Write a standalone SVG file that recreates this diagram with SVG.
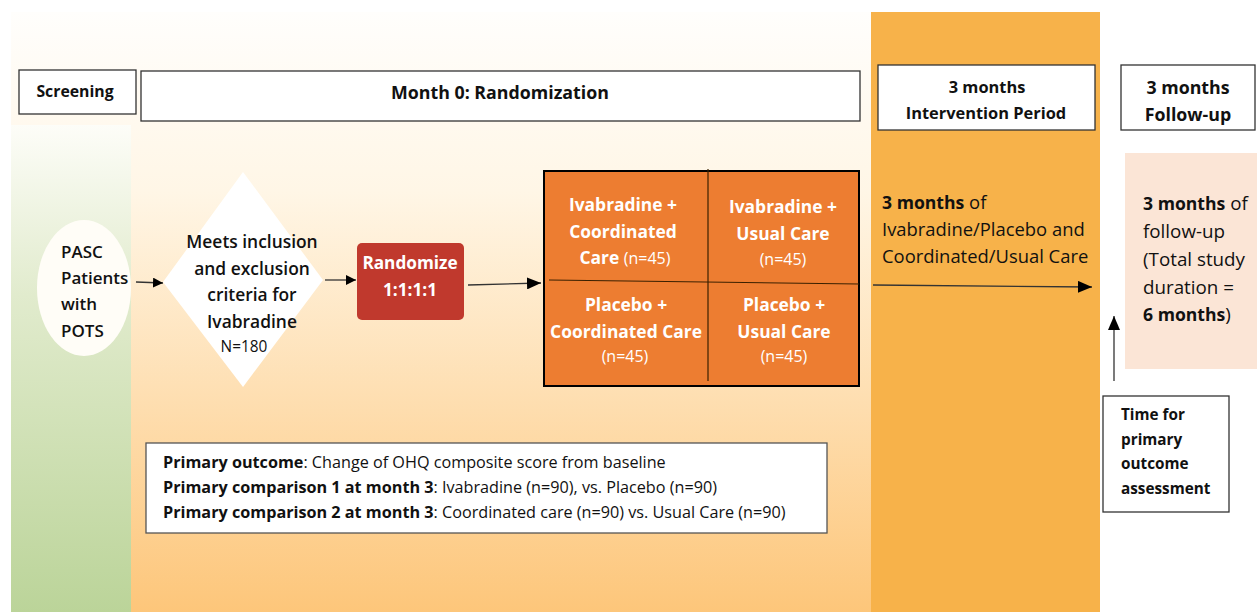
<svg xmlns="http://www.w3.org/2000/svg" width="1257" height="612" viewBox="0 0 1257 612">
<defs>
<linearGradient id="gOrange" x1="0" y1="0" x2="0" y2="1">
<stop offset="0" stop-color="#fffefc"/>
<stop offset="0.3" stop-color="#fff6e6"/>
<stop offset="1" stop-color="#fdc67a"/>
</linearGradient>
<linearGradient id="gGreen" x1="0" y1="0" x2="0" y2="1">
<stop offset="0" stop-color="#fdfdf8"/>
<stop offset="0.35" stop-color="#e1ebcd"/>
<stop offset="1" stop-color="#bbd499"/>
</linearGradient>
<marker id="ah" viewBox="0 0 10 10" refX="10" refY="5" markerWidth="10" markerHeight="10" markerUnits="userSpaceOnUse" orient="auto">
<path d="M0,0 L10,5 L0,10 z" fill="#000"/>
</marker>
<marker id="ahL" viewBox="0 0 14 12" refX="14" refY="6" markerWidth="14" markerHeight="12" markerUnits="userSpaceOnUse" orient="auto">
<path d="M0,0 L14,6 L0,12 z" fill="#000"/>
</marker>
</defs>
<style>
text{font-family:"Open Sans","Liberation Sans",sans-serif;fill:#111}
.b{font-weight:bold}
.hdr{fill:#fff;stroke:#333;stroke-width:1.3}
.c{text-anchor:middle}
.wt{fill:#fff}
.conn{stroke:#333;stroke-width:1.3;fill:none}
</style>
<rect width="1257" height="612" fill="#fff"/>
<g id="background">
<rect x="11" y="12" width="860" height="600" fill="url(#gOrange)"/>
<rect x="11" y="125" width="120" height="487" fill="url(#gGreen)"/>
<rect x="871" y="12" width="229" height="600" fill="#f7b24a"/>
</g>
<g id="hdr-screening">
<rect class="hdr" x="19" y="70" width="117" height="44"/>
<text class="b c" x="75" y="97" font-size="15.8">Screening</text>
</g>
<g id="hdr-month0">
<rect class="hdr" x="141" y="71" width="719" height="50"/>
<text class="b c" x="500" y="99" font-size="17.8">Month 0: Randomization</text>
</g>
<g id="hdr-intervention">
<rect class="hdr" x="878" y="65" width="217" height="65"/>
<text class="b c" x="987" y="93" font-size="16.4">3 months</text>
<text class="b c" x="986" y="119" font-size="16.4">Intervention Period</text>
</g>
<g id="hdr-followup">
<rect class="hdr" x="1121" y="65" width="134" height="65"/>
<text class="b c" x="1188" y="94" font-size="17.8">3 months</text>
<text class="b c" x="1188" y="121" font-size="17.8">Follow-up</text>
</g>
<g id="patients">
<ellipse cx="84" cy="288" rx="47" ry="68" fill="#fffdf7"/>
<text x="61" y="258" font-size="17" font-weight="600">PASC</text>
<text x="61" y="284" font-size="17" font-weight="600">Patients</text>
<text x="61" y="310" font-size="17" font-weight="600">with</text>
<text x="61" y="337" font-size="17" font-weight="600">POTS</text>
</g>
<g id="criteria">
<polygon points="243,172 323,280 243,387 163,282" fill="#fff"/>
<text class="c" x="252" y="248" font-size="17.4" font-weight="600">Meets inclusion</text>
<text class="c" x="252" y="275" font-size="17.4" font-weight="600">and exclusion</text>
<text class="c" x="252" y="301" font-size="17.4" font-weight="600">criteria for</text>
<text class="c" x="252" y="328" font-size="17.4" font-weight="600">Ivabradine</text>
<text class="c" x="244" y="352" font-size="15.4">N=180</text>
</g>
<g id="randomize">
<rect x="357" y="243" width="107" height="77" rx="5" fill="#c0392d"/>
<text class="b c wt" x="410" y="269" font-size="17.2">Randomize</text>
<text class="b c wt" x="410" y="296" font-size="17.2">1:1:1:1</text>
</g>
<g id="arms">
<rect x="544" y="171" width="315" height="215" fill="#ed7d31" stroke="#000" stroke-width="2"/>
<line x1="708" y1="169" x2="708" y2="381" stroke="#3a2000" stroke-width="1.2"/>
<line x1="549" y1="280" x2="859" y2="284" stroke="#3a2000" stroke-width="1.2"/>
<g font-size="17.4" font-weight="bold">
<text class="c wt" x="623" y="211">Ivabradine +</text>
<text class="c wt" x="623" y="238">Coordinated</text>
<text class="c wt" x="625" y="264">Care <tspan font-weight="normal" font-size="16">(n=45)</tspan></text>
<text class="c wt" x="783" y="213">Ivabradine +</text>
<text class="c wt" x="783" y="240">Usual Care</text>
<text class="c wt" x="783" y="265" font-weight="normal" font-size="16">(n=45)</text>
<text class="c wt" x="626" y="311">Placebo +</text>
<text class="c wt" x="626" y="338">Coordinated Care</text>
<text class="c wt" x="625" y="362" font-weight="normal" font-size="16">(n=45)</text>
<text class="c wt" x="784" y="311">Placebo +</text>
<text class="c wt" x="784" y="338">Usual Care</text>
<text class="c wt" x="784" y="362" font-weight="normal" font-size="16">(n=45)</text>
</g>
</g>
<g id="intervention-text">
<text x="882" y="209" font-size="18.4"><tspan font-weight="bold" font-size="17.6">3 months</tspan> of</text>
<text x="882" y="236" font-size="18.4">Ivabradine/Placebo and</text>
<text x="882" y="263" font-size="18.4">Coordinated/Usual Care</text>
</g>
<g id="followup">
<rect x="1125" y="153" width="132" height="216" fill="#fbe5d6"/>
<text x="1143" y="210" font-size="18.8"><tspan font-weight="bold" font-size="17.6">3 months</tspan> of</text>
<text x="1143" y="238" font-size="18.8">follow-up</text>
<text x="1143" y="266" font-size="18.8">(Total study</text>
<text x="1143" y="294" font-size="18.8">duration =</text>
<text x="1143" y="321" font-size="18.8"><tspan font-weight="bold" font-size="17.6">6 months</tspan>)</text>
</g>
<g id="assessment">
<rect x="1103" y="396" width="126" height="116" fill="#fff" stroke="#333" stroke-width="1.3"/>
<text class="b" x="1121" y="420" font-size="15.3">Time for</text>
<text class="b" x="1121" y="445" font-size="15.3">primary</text>
<text class="b" x="1121" y="469" font-size="15.3">outcome</text>
<text class="b" x="1121" y="494" font-size="15.3">assessment</text>
</g>
<g id="outcome">
<rect x="146" y="443" width="681" height="90" fill="#fff" stroke="#555" stroke-width="1.3"/>
<text x="163" y="468" font-size="16.2"><tspan font-weight="bold">Primary outcome</tspan>: Change of OHQ composite score from baseline</text>
<text x="163" y="493" font-size="16.2"><tspan font-weight="bold">Primary comparison 1 at month 3</tspan>: Ivabradine (n=90), vs. Placebo (n=90)</text>
<text x="163" y="518" font-size="16.2"><tspan font-weight="bold">Primary comparison 2 at month 3</tspan>: Coordinated care (n=90) vs. Usual Care (n=90)</text>
</g>
<g id="connectors">
<line class="conn" x1="136" y1="282" x2="163" y2="283" marker-end="url(#ah)"/>
<line class="conn" x1="325" y1="280" x2="356" y2="280" marker-end="url(#ah)"/>
<line class="conn" x1="468" y1="285" x2="541" y2="283" marker-end="url(#ahL)"/>
<line class="conn" x1="873" y1="285" x2="1092" y2="287" marker-end="url(#ahL)"/>
<line class="conn" x1="1114" y1="381" x2="1114" y2="316" marker-end="url(#ahL)"/>
</g>
</svg>
